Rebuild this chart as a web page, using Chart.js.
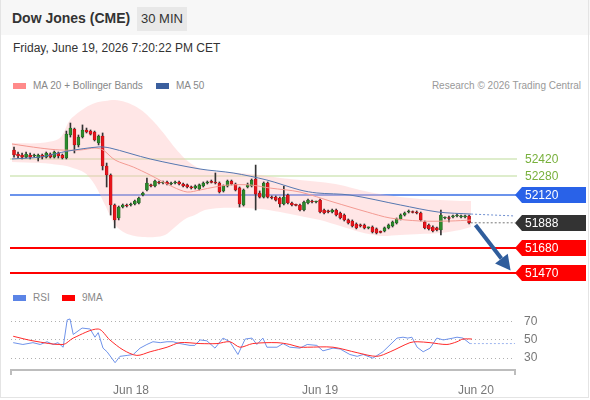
<!DOCTYPE html>
<html>
<head>
<meta charset="utf-8">
<script src="https://cdn.jsdelivr.net/npm/chart.js@4.4.0/dist/chart.umd.min.js"></script>
<style>
  body { margin: 0; background: #fff; font-family: "Liberation Sans", Arial, sans-serif; }
  #page { position: relative; width: 590px; height: 400px; overflow: hidden; }
  #frame { position: absolute; left: 0; top: 0; width: 587px; height: 397px; border: 1px solid #e4e4e4; border-top: none; pointer-events: none; }
  #head { position: absolute; left: 0; top: 0; width: 590px; height: 35px; background: #f7f7f7; }
  #title { position: absolute; left: 12px; top: 10px; font-size: 14px; font-weight: bold; color: #333; }
  #badge { position: absolute; left: 137px; top: 7px; width: 50px; height: 24px; line-height: 24px; text-align: center; background: #e8e8e8; font-size: 13px; color: #333; }
  #date { position: absolute; left: 13px; top: 41px; font-size: 12px; color: #333; }
  .leg { position: absolute; font-size: 10px; color: #888; white-space: nowrap; }
  .box { display: inline-block; width: 13px; height: 6px; margin-right: 7px; vertical-align: 0px; }
  canvas { position: absolute; left: 0; }
</style>
</head>
<body>
<div id="page">
  <div id="head"></div>
  <div id="title">Dow Jones (CME)</div>
  <div id="badge">30 MIN</div>
  <div id="date">Friday, June 19, 2026 7:20:22 PM CET</div>
  <div class="leg" style="left:13px;top:80px"><span class="box" style="background:#ff8a8a"></span>MA 20 + Bollinger Bands</div>
  <div class="leg" style="left:156px;top:80px"><span class="box" style="background:#3b5f9e"></span>MA 50</div>
  <div class="leg" style="right:9px;top:80px;color:#999">Research © 2026 Trading Central</div>
  <div class="leg" style="left:13px;top:292px"><span class="box" style="background:#5b84e6"></span>RSI</div>
  <div class="leg" style="left:62px;top:292px"><span class="box" style="background:#ff0000"></span>9MA</div>
  <canvas id="price" width="590" height="195" style="top:95px;width:590px;height:195px"></canvas>
  <canvas id="rsi" width="590" height="105" style="top:290px;width:590px;height:105px"></canvas>
  <div id="frame"></div>
</div>
<script>
// candles, 30 min, index 0 = first bar on the left
const candleOpen = [52496,52462,52454,52437,52454,52446,52429,52454,52437,52462,
  52437,52471,52454,52429,52621,52671,52538,52604,52663,52654,
  52646,52554,52613,52362,52287,52037,51928,52020,52037,52037,
  52045,52053,52120,52162,52204,52195,52229,52220,52229,52212,
  52220,52229,52212,52204,52187,52179,52170,52195,52220,52229,
  52229,52220,52154,52195,52237,52212,52179,52037,52187,52195,
  52254,52137,52103,52220,52103,52103,52095,52045,52120,52053,
  52037,52037,51995,52053,52070,52062,52078,51995,51987,51978,
  51995,51970,51953,51912,51903,51878,51870,51870,51845,51853,
  51837,51812,51820,51845,51862,51887,51920,51953,51978,51978,
  51978,51970,51895,51870,51853,51845,51828,51928,51928,51937,
  51945,51937,51937,51945];
const candleClose = [52454,52446,52437,52462,52437,52454,52454,52437,52471,52437,
  52479,52446,52429,52629,52679,52538,52604,52663,52646,52629,
  52579,52613,52362,52287,52037,51912,52020,52037,52028,52045,
  52070,52095,52137,52220,52195,52237,52220,52229,52212,52220,
  52229,52212,52195,52187,52179,52195,52204,52220,52229,52226,
  52220,52145,52195,52237,52212,52162,52045,52162,52204,52245,
  52128,52103,52220,52103,52095,52078,52045,52103,52053,52037,
  52033,51995,52062,52078,52062,52066,51978,51970,51978,51995,
  51953,51928,51912,51887,51862,51845,51862,51845,51849,51812,
  51803,51808,51845,51870,51895,51920,51953,51970,51982,51974,
  51970,51912,51845,51837,51820,51828,51953,51932,51924,51945,
  51949,51945,51941,51888];
const candleHigh = [52521,52479,52471,52479,52471,52462,52462,52462,52479,52471,
  52487,52479,52462,52654,52721,52679,52621,52705,52679,52663,
  52654,52621,52638,52387,52296,52045,52028,52045,52045,52053,
  52078,52103,52145,52262,52212,52245,52237,52237,52237,52229,
  52237,52237,52220,52212,52195,52204,52212,52229,52237,52245,
  52304,52229,52204,52245,52245,52220,52187,52170,52220,52254,
  52370,52154,52229,52229,52112,52112,52103,52195,52128,52062,
  52045,52045,52070,52087,52078,52070,52087,52003,51995,52003,
  52003,51978,51962,51920,51912,51887,51878,51878,51853,51862,
  51845,51820,51853,51878,51903,51928,51962,51978,51995,51987,
  51987,51978,51903,51878,51862,51853,51995,51937,51945,51953,
  51962,51953,51953,51953];
const candleLow = [52437,52429,52421,52429,52421,52437,52404,52421,52429,52429,
  52429,52429,52421,52421,52604,52471,52521,52596,52638,52621,
  52571,52538,52329,52187,51953,51845,51912,52012,52020,52028,
  52037,52045,52112,52154,52187,52187,52212,52212,52204,52204,
  52212,52204,52187,52179,52170,52170,52162,52187,52212,52220,
  52212,52137,52145,52187,52204,52154,52020,52028,52179,52187,
  51995,52095,52095,52095,52087,52070,52020,52037,52045,52028,
  52028,51987,51987,52045,52053,52053,51970,51962,51970,51970,
  51945,51920,51903,51878,51853,51837,51853,51837,51837,51803,
  51795,51803,51812,51837,51853,51878,51912,51945,51970,51970,
  51962,51903,51837,51828,51812,51820,51787,51920,51895,51928,
  51937,51928,51928,51878];

// bollinger bands (MA 20 +/- 2 sd), read at bar positions
const bandIdx = [-0.5,6.5,11.4,13.9,17.6,20.1,22.6,25.1,27.6,30.0,32.5,35.0,37.5,40.0,42.5,44.9,
  47.4,51.2,56.1,61.1,66.1,71.0,76.0,81.0,85.9,90.9,95.9,100.8,105.8,110.8,113.5];
const bandUpper = [52554,52554,52596,52746,52846,52888,52905,52913,52897,52863,52805,52721,52621,52512,52421,52362,
  52329,52312,52304,52287,52262,52245,52229,52204,52162,52128,52103,52087,52078,52070,52070];
const bandLower = [52396,52387,52370,52354,52304,52204,52037,51870,51803,51778,51769,51769,51786,51853,51920,51953,
  51995,52012,52012,52003,51978,51945,51911,51861,51811,51778,51786,51794,51803,51828,51853];

const ma20Idx = [-0.5,6.5,11.4,16.4,20.1,22.1,25.1,29.6,33.8,39.5,43.0,46.2,49.9,53.6,58.6,63.6,71.0,79.2,87.7,93.4,100.8,108.3,113.5];
const ma20Val = [52546,52512,52496,52496,52512,52496,52412,52354,52287,52187,52145,52162,52187,52204,52204,52178,52145,52062,51978,51928,51903,51903,51911];

const ma50Idx = [-0.5,6.5,13.4,20.9,23.8,33.8,46.2,54.4,62.8,71.0,75.2,83.4,95.9,105.3,113.5];
const ma50Val = [52421,52437,52487,52521,52513,52421,52337,52304,52245,52162,52137,52120,52037,51978,51961];
const ma50Next = 51945;

const lastPrice = 51888;
const levelValues = [52420, 52280, 52120, 51680, 51470];
const levelKinds = ['res', 'res', 'pivot', 'sup', 'sup'];
const arrowFrom = [114.6, 51870];
const arrowTo = [123.3, 51490];

// RSI panel
const rsiIdx = [-0.2,2.2,4.7,6.5,8.2,9.7,10.9,12.2,13.2,13.9,14.7,16.9,18.9,20.1,20.9,22.1,23.1,25.1,26.3,28.1,
  29.6,31.3,33.0,34.5,36.3,38.0,39.5,41.2,43.7,44.9,46.2,47.9,49.9,51.9,53.6,55.6,57.4,59.1,60.3,61.8,
  62.8,65.3,66.8,68.5,71.0,72.8,75.2,76.7,79.2,81.0,83.4,85.2,86.7,89.1,91.6,95.1,96.6,97.8,98.8,100.1,
  101.6,103.3,105.0,106.6,109.0,110.0,111.5,113.2];
const rsiVal = [47,45,47,45,48,45,47,42,72,73,56,63,62,53,58,41,37,25,32,33,
  34,41,45,48,47,48,48,46,44,44,50,49,41,52,48,34,51,52,45,52,
  42,42,46,42,41,45,44,38,41,40,34,32,34,30,37,52,53,52,53,42,
  37,41,52,50,52,53,52,46];
const rsiMaIdx = [-0.2,4.7,12.2,14.7,20.9,23.8,27.1,30.5,33.8,38.0,41.2,46.2,50.4,53.6,56.1,59.3,
  65.3,68.5,71.0,72.8,79.2,85.2,90.1,93.4,98.3,100.1,103.3,107.5,110.0,111.5,113.7];
const rsiMaVal = [54,49,45,52,62,50,39,33,37,42,47,46,46,48,42,46,
  47,45,42,42,42,36,32,37,47,48,47,45,48,51,51];
const rsiTicks = [30, 50, 70];

const dayTickIdx = [29.05, 76.0, 114.7];
const dayTickLabels = ['Jun 18', 'Jun 19', 'Jun 20'];

const xMin = -0.75, xMax = 124.4;
const font = '"Liberation Sans", Arial, sans-serif';

function pts(xs, ys) { return xs.map((x, i) => ({ x: x, y: ys[i] })); }

const bodies = candleOpen.map((o, i) => ({ x: i, y: [o, candleClose[i]] }));
const wicks = candleOpen.map((o, i) => ({ x: i, y: [candleLow[i], candleHigh[i]] }));
const up = candleOpen.map((o, i) => candleClose[i] >= o);

const levelPlugin = {
  id: 'levels',
  beforeDatasetsDraw(chart) {
    const { ctx, chartArea: a, scales: { y } } = chart;
    ctx.save();
    levelValues.forEach((v, i) => {
      const py = Math.round(y.getPixelForValue(v));
      const k = levelKinds[i];
      ctx.strokeStyle = k === 'res' ? '#bddc99' : k === 'pivot' ? '#3a6fe6' : '#ff0000';
      ctx.lineWidth = k === 'res' ? 1.2 : k === 'pivot' ? 1.5 : 2;
      ctx.beginPath();
      ctx.moveTo(a.left - 1, py);
      ctx.lineTo(a.right + 2, py);
      ctx.stroke();
    });
    ctx.restore();
  },
  afterDraw(chart) {
    const { ctx, chartArea: a, scales: { x, y } } = chart;
    ctx.save();
    ctx.font = '12px ' + font;
    ctx.textBaseline = 'middle';
    const tag = (v, color) => {
      const py = Math.round(y.getPixelForValue(v));
      ctx.fillStyle = color;
      ctx.beginPath();
      ctx.moveTo(a.right, py);
      ctx.lineTo(a.right + 7, py - 8);
      ctx.lineTo(586, py - 8);
      ctx.lineTo(586, py + 8);
      ctx.lineTo(a.right + 7, py + 8);
      ctx.closePath();
      ctx.fill();
      ctx.fillStyle = '#fff';
      ctx.fillText(String(v), a.right + 10, py + 1);
    };
    levelValues.forEach((v, i) => {
      const k = levelKinds[i];
      if (k === 'res') {
        ctx.fillStyle = '#78b03c';
        ctx.fillText(String(v), a.right + 10, Math.round(y.getPixelForValue(v)) + 1);
      } else {
        tag(v, k === 'pivot' ? '#2962e8' : '#ff0000');
      }
    });
    tag(lastPrice, '#333333');

    // forecast arrow
    const x0 = x.getPixelForValue(arrowFrom[0]), y0 = y.getPixelForValue(arrowFrom[1]);
    const x1 = x.getPixelForValue(arrowTo[0]), y1 = y.getPixelForValue(arrowTo[1]);
    const ang = Math.atan2(y1 - y0, x1 - x0);
    const head = 15;
    const bx = x1 - head * Math.cos(ang), by = y1 - head * Math.sin(ang);
    ctx.strokeStyle = '#2f5d9c';
    ctx.fillStyle = '#2f5d9c';
    ctx.lineWidth = 4;
    ctx.beginPath();
    ctx.moveTo(x0, y0);
    ctx.lineTo(bx, by);
    ctx.stroke();
    ctx.beginPath();
    ctx.moveTo(x1, y1);
    ctx.lineTo(bx + 8 * Math.sin(ang), by - 8 * Math.cos(ang));
    ctx.lineTo(bx - 8 * Math.sin(ang), by + 8 * Math.cos(ang));
    ctx.closePath();
    ctx.fill();
    ctx.restore();
  }
};

new Chart(document.getElementById('price').getContext('2d'), {
  type: 'bar',
  data: {
    datasets: [
      {
        type: 'line', label: 'upper', data: pts(bandIdx, bandUpper),
        borderWidth: 0, pointRadius: 0, fill: '+1', backgroundColor: 'rgba(255,190,190,0.38)', tension: 0.3, order: 9
      },
      {
        type: 'line', label: 'lower', data: pts(bandIdx, bandLower),
        borderWidth: 0, pointRadius: 0, fill: false, tension: 0.3, order: 9
      },
      {
        type: 'line', label: 'MA 20', data: pts(ma20Idx, ma20Val),
        borderColor: '#f39a92', borderWidth: 1, pointRadius: 0, tension: 0.3, order: 3
      },
      {
        type: 'line', label: 'MA 50', data: pts(ma50Idx, ma50Val),
        borderColor: '#5577b0', borderWidth: 1, pointRadius: 0, tension: 0.3, order: 2
      },
      {
        type: 'line', label: 'MA 50 next', data: [{ x: ma50Idx[ma50Idx.length - 1], y: ma50Val[ma50Val.length - 1] }, { x: xMax, y: ma50Next }],
        borderColor: '#6f8fd0', borderWidth: 1, borderDash: [2, 2], pointRadius: 0, order: 2
      },
      {
        type: 'line', label: 'last', data: [{ x: candleOpen.length - 0.6, y: lastPrice }, { x: xMax, y: lastPrice }],
        borderColor: '#777', borderWidth: 1, borderDash: [2, 2], pointRadius: 0, order: 2
      },
      {
        label: 'wicks', data: wicks, backgroundColor: '#333', barThickness: 1,
        grouped: false, borderWidth: 0, order: 5
      },
      {
        label: 'bodies', data: bodies,
        backgroundColor: up.map(u => u ? '#2c8a2c' : '#e8141b'),
        borderColor: up.map(u => u ? '#1d5e1d' : '#a30f12'),
        borderWidth: 0.6, borderSkipped: false, barThickness: 3, minBarLength: 1,
        grouped: false, order: 4
      }
    ]
  },
  options: {
    responsive: false,
    animation: false,
    layout: { padding: { left: 11, right: 75, top: 0, bottom: 0 } },
    plugins: { legend: { display: false }, tooltip: { enabled: false } },
    scales: {
      x: { type: 'linear', min: xMin, max: xMax, offset: false, display: false },
      y: { type: 'linear', min: 51327, max: 52955, display: false }
    }
  },
  plugins: [levelPlugin]
});

const axisEnds = {
  id: 'axisEnds',
  afterDraw(chart) {
    const { ctx, chartArea: a } = chart;
    ctx.save();
    ctx.strokeStyle = '#bdbdbd';
    ctx.lineWidth = 2;
    [a.left, a.right].forEach(px => {
      ctx.beginPath();
      ctx.moveTo(px, a.bottom);
      ctx.lineTo(px, a.bottom + 5);
      ctx.stroke();
    });
    ctx.restore();
  }
};

new Chart(document.getElementById('rsi').getContext('2d'), {
  type: 'line',
  data: {
    datasets: [
      { label: 'RSI', data: pts(rsiIdx, rsiVal), borderColor: '#6f93ea', borderWidth: 1, pointRadius: 0, order: 2 },
      {
        label: 'RSI next', data: [{ x: rsiIdx[rsiIdx.length - 1], y: rsiVal[rsiVal.length - 1] }, { x: xMax, y: rsiVal[rsiVal.length - 1] }],
        borderColor: '#9fb6ef', borderWidth: 1, borderDash: [2, 2], pointRadius: 0, order: 2
      },
      { label: '9MA', data: pts(rsiMaIdx, rsiMaVal), borderColor: '#ff2a2a', borderWidth: 1, pointRadius: 0, tension: 0.3, order: 1 }
    ]
  },
  options: {
    responsive: false,
    animation: false,
    layout: { padding: { left: 11, right: 0, top: 15, bottom: 0 } },
    plugins: { legend: { display: false }, tooltip: { enabled: false } },
    scales: {
      x: {
        type: 'linear', min: xMin, max: xMax, offset: false,
        afterBuildTicks: s => { s.ticks = dayTickIdx.map(v => ({ value: v })); },
        afterFit: s => { s.height = 25; },
        ticks: {
          autoSkip: false, maxRotation: 0, padding: 5, color: '#777',
          font: { size: 12, family: font },
          callback: (v, i) => dayTickLabels[i]
        },
        grid: { display: false },
        border: { display: true, color: '#bdbdbd', width: 2 }
      },
      y: {
        type: 'linear', position: 'right', min: 17, max: 87,
        afterBuildTicks: s => { s.ticks = rsiTicks.map(v => ({ value: v })); },
        afterFit: s => { s.width = 75; },
        ticks: { padding: 9, color: '#777', font: { size: 12, family: font } },
        grid: { color: '#b0b0b0', drawTicks: false, lineWidth: 1 },
        border: { display: false, dash: [1, 3] }
      }
    }
  },
  plugins: [axisEnds]
});
</script>
</body>
</html>
